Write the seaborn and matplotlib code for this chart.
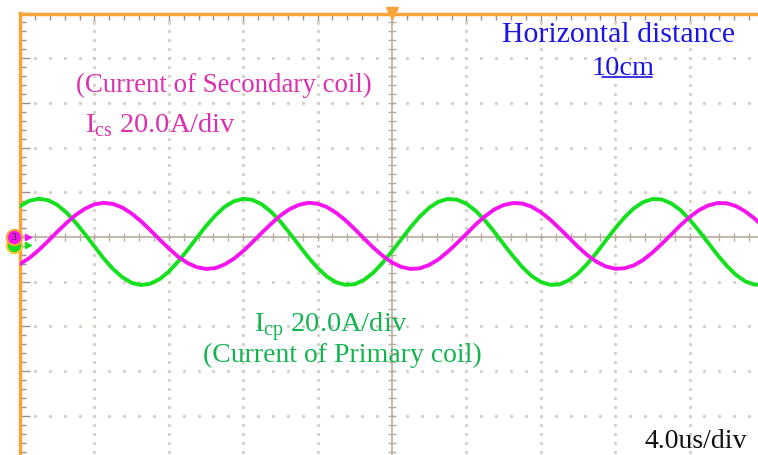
import numpy as np
import pandas as pd
import seaborn as sns
import matplotlib.pyplot as plt

# scope settings
time_per_div = 4.0     # us/div
amp_per_div = 20.0     # A/div
n_xdiv = 10
n_ydiv = 10

time_us = np.arange(0, 40.5, 0.5)

i_primary = [13.8, 16.2, 17.1, 16.5, 14.4, 10.9, 6.4, 1.2, -4.2, -9.6,
             -14.3, -18.0, -20.5, -21.5, -20.9, -18.9, -15.5, -11.0, -5.9, -0.4,
             4.9, 9.6, 13.5, 16.0, 17.1, 16.6, 14.6, 11.3, 6.9, 1.7,
             -3.7, -9.1, -13.8, -17.7, -20.3, -21.4, -21.1, -19.2, -15.9, -11.5,
             -6.4, -1.0, 4.4, 9.2, 13.1, 15.8, 17.0, 16.7, 14.9, 11.7,
             7.4, 2.3, -3.2, -8.5, -13.4, -17.4, -20.1, -21.4, -21.2, -19.4,
             -16.3, -12.0, -7.0, -1.5, 3.9, 8.8, 12.8, 15.6, 17.0, 16.8,
             15.1, 12.1, 7.8, 2.8, -2.6, -8.0, -12.9, -17.0, -19.9, -21.3,
             -21.3]

i_secondary = [-12.1, -9.4, -5.9, -1.9, 2.3, 6.3, 9.9, 12.7, 14.6, 15.3,
               14.8, 13.2, 10.5, 7.1, 3.1, -1.1, -5.1, -8.8, -11.6, -13.5,
               -14.3, -13.9, -12.3, -9.7, -6.3, -2.3, 1.9, 5.9, 9.6, 12.5,
               14.4, 15.3, 14.9, 13.4, 10.8, 7.5, 3.5, -0.7, -4.8, -8.4,
               -11.4, -13.4, -14.3, -14.0, -12.5, -10.0, -6.6, -2.7, 1.4, 5.6,
               9.3, 12.3, 14.3, 15.2, 15.0, 13.6, 11.1, 7.8, 3.9, -0.2,
               -4.4, -8.1, -11.1, -13.2, -14.2, -14.0, -12.7, -10.3, -7.0, -3.1,
               1.0, 5.2, 8.9, 12.0, 14.1, 15.2, 15.1, 13.8, 11.4, 8.2,
               4.3]

channels = ["Icp", "Ics"]
colors = {"Icp": "#14e01e", "Ics": "#f514f0"}

df = pd.DataFrame({
    "t": np.concatenate([time_us, time_us]),
    "i": i_primary + i_secondary,
    "ch": [channels[0]] * len(time_us) + [channels[1]] * len(time_us),
})

sns.set_theme(style="white")
plt.rcParams["font.family"] = ["Liberation Serif", "DejaVu Serif"]
plt.rcParams["mathtext.fontset"] = "custom"
plt.rcParams["mathtext.rm"] = "Liberation Serif"

W, H = 758, 456
fig = plt.figure(figsize=(W / 100, H / 100), dpi=100)
# screen runs past the right and bottom edges of the crop
left, top, divx, divy = 20, 14.5, 74.4, 44.7
ax = fig.add_axes([left / W, 1 - (top + n_ydiv * divy) / H,
                   n_xdiv * divx / W, n_ydiv * divy / H])

xmax = n_xdiv * time_per_div
ymax = n_ydiv / 2 * amp_per_div
ax.set_xlim(0, xmax)
ax.set_ylim(-ymax, ymax)

# dotted graticule
dot_col = "#d6d1c8"
for k in range(1, n_xdiv):
    x = k * time_per_div
    if k == n_xdiv // 2:
        continue
    ys = np.arange(-ymax, ymax + 0.01, amp_per_div / 5)
    ax.plot([x] * len(ys), ys, ls="none", marker="o", ms=1.4, color=dot_col, zorder=1)
for k in range(1, n_ydiv):
    y = -ymax + k * amp_per_div
    if k == n_ydiv // 2:
        continue
    xs = np.arange(0, xmax + 0.01, time_per_div / 5)
    ax.plot(xs, [y] * len(xs), ls="none", marker="o", ms=1.4, color=dot_col, zorder=1)

# centre cross with minor ticks
axis_col = "#b9ae9f"
ax.axhline(0, color=axis_col, lw=1.2, zorder=1)
ax.axvline(xmax / 2, color=axis_col, lw=1.2, zorder=1)
xs = np.arange(0, xmax + 0.01, time_per_div / 5)
ax.plot(xs, np.zeros_like(xs), ls="none", marker="|", ms=6, mew=1, color=axis_col, zorder=1)
ys = np.arange(-ymax, ymax + 0.01, amp_per_div / 5)
ax.plot(np.full_like(ys, xmax / 2), ys, ls="none", marker="_", ms=6, mew=1, color=axis_col, zorder=1)

sns.lineplot(data=df, x="t", y="i", hue="ch", palette=colors, lw=2.8,
             legend=False, ax=ax, zorder=3)

# frame: orange left/top edges with inward ticks
for s in ["right", "bottom"]:
    ax.spines[s].set_visible(False)
for s in ["left", "top"]:
    ax.spines[s].set_color("#f7a43a")
    ax.spines[s].set_linewidth(2.5)
ax.set_xticks(np.arange(0, xmax + 0.01, time_per_div))
ax.set_xticks(np.arange(0, xmax + 0.01, time_per_div / 5), minor=True)
ax.set_yticks(np.arange(-ymax, ymax + 0.01, amp_per_div))
ax.set_yticks(np.arange(-ymax, ymax + 0.01, amp_per_div / 5), minor=True)
ax.tick_params(which="both", direction="in", left=True, top=True, bottom=False, right=False,
               labelleft=False, labelbottom=False, color="#9a9288", width=1)
ax.tick_params(which="major", length=7)
ax.tick_params(which="minor", length=4)
ax.set_xlabel("")
ax.set_ylabel("")

# trigger and channel markers
ax.plot([xmax / 2], [ymax], marker="v", ms=8, color="#f7a43a", clip_on=False, zorder=5)
ax.plot([-0.3], [-3.5], marker="o", ms=11, color="#14e01e", mec="#f7c33a", mew=1.5,
        clip_on=False, zorder=5)
ax.plot([-0.3], [0], marker="o", ms=11, color="#f514f0", mec="#f7a43a", mew=1.5,
        clip_on=False, zorder=6)
ax.text(-0.3, 0, "3", fontsize=7, ha="center", va="center", color="#222222", zorder=7,
        clip_on=False)
ax.plot([0.45], [0], marker=">", ms=4, color="#f514f0", clip_on=False, zorder=6)
ax.plot([0.45], [-3.5], marker=">", ms=4, color="#14e01e", clip_on=False, zorder=6)

# annotations
blue = "#1a14e6"
pink = "#db2fb0"
green = "#14b450"
ax.text(25.9, 87.7, "Horizontal distance", color=blue, fontsize=21.5, ha="left", va="baseline")
ax.text(30.75, 72.9, "10cm", color=blue, fontsize=20.3, ha="left", va="baseline")
ax.plot([31.3, 34.0], [71.6, 71.6], color=blue, lw=1.2, clip_on=False)
ax.text(3.0, 65.3, "(Current of Secondary coil)", color=pink, fontsize=19.4,
        ha="left", va="baseline")
ax.text(3.5, 47.4, r"I$_{\mathrm{cs}}$ 20.0A/div", color=pink, fontsize=20.5,
        ha="left", va="baseline")
ax.text(12.6, -42.1, r"I$_{\mathrm{cp}}$ 20.0A/div", color=green, fontsize=20.5,
        ha="left", va="baseline")
ax.text(24.8, -55.5, "(Current of Primary coil)", color=green, fontsize=20,
        ha="right", va="baseline")
ax.text(39.1, -93.8, "4.0us/div", color="#111111", fontsize=20, ha="right", va="baseline")

fig.savefig("out.png", dpi=100)
